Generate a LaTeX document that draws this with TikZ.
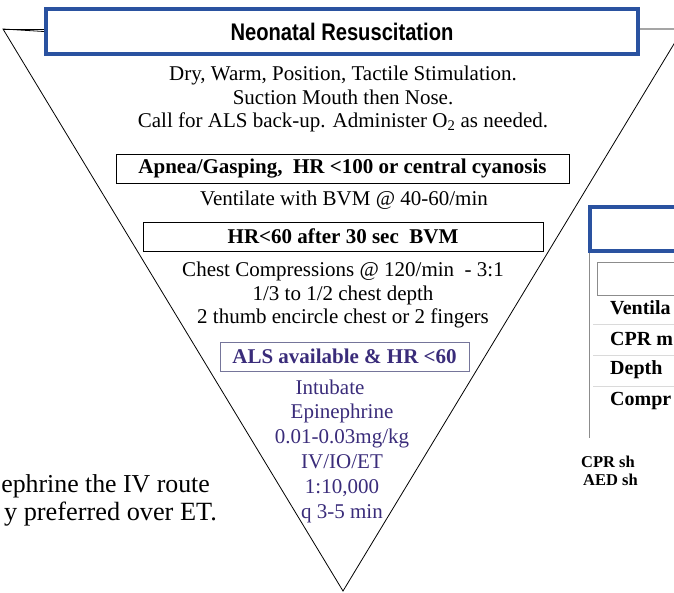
\documentclass[tikz,border=0pt]{standalone}
\usepackage{fontspec}
\setmainfont{Liberation Serif}
\newfontfamily\headfont[FakeStretch=0.84]{Liberation Sans}
\definecolor{frameblue}{HTML}{2A52A0}
\definecolor{alspurple}{HTML}{3A2C7A}
\definecolor{alsframe}{HTML}{75759A}
\definecolor{railgray}{HTML}{8C8C8C}
\definecolor{rowgray}{HTML}{DADADA}

\begin{document}
\begin{tikzpicture}[x=1pt,y=-1pt,
  txt/.style={align=center,inner sep=0pt,font=\fontsize{21}{23.5}\selectfont},
  stepbox/.style={draw,line width=1pt,inner sep=0pt,font=\fontsize{21}{24}\selectfont\bfseries},
  bluebox/.style={draw=frameblue,line width=4pt,inner sep=0pt},
  rowtxt/.style={anchor=west,inner sep=0pt,font=\fontsize{20}{22}\selectfont\bfseries},
  notetxt/.style={anchor=west,inner sep=0pt,font=\fontsize{16.5}{18}\selectfont\bfseries}]
  \clip (0,0) rectangle (674,592);

  % Nodes
  \node[bluebox,minimum width=592pt,minimum height=45pt,
        font=\headfont\bfseries\fontsize{24}{26}\selectfont] (title) at (342,31.5) {Neonatal Resuscitation};
  \coordinate (tl) at (3,29);
  \coordinate (tr) at (683,29);
  \coordinate (tip) at (343,591);

  \node[txt] (prep) at (343,99) {Dry, Warm, Position, Tactile Stimulation.\\
    Suction Mouth then Nose.\\
    Call for ALS back-up. Administer O\textsubscript{2} as needed.};
  \node[stepbox,minimum width=453pt,minimum height=29pt] (apnea) at (342.5,168.5) {Apnea/Gasping,\ \ HR <100 or central cyanosis};
  \node[txt] (vent) at (344,200) {Ventilate with BVM @ 40-60/min};
  \node[stepbox,minimum width=400pt,minimum height=29pt] (hr60) at (343,236.5) {HR<60 after 30 sec\ \ BVM};
  \node[txt] (comp) at (343,295) {Chest Compressions @ 120/min\ \ - 3:1\\
    1/3 to 1/2 chest depth\\
    2 thumb encircle chest or 2 fingers};
  \node[stepbox,draw=alsframe,text=alspurple,minimum width=249pt,minimum height=29pt] (als) at (344.5,356.5) {ALS available \& HR <60};
  \node[txt,text=alspurple,font=\fontsize{21}{24.8}\selectfont] (drug) at (342,451) {Intubate\hspace*{24pt}\\Epinephrine\\0.01-0.03mg/kg\\IV/IO/ET\\1:10,000\\q 3-5 min};

  % left note (cut off)
  \node[anchor=east,inner sep=0pt,font=\fontsize{25.8}{28}\selectfont] (routeA) at (210,486) {ephrine the IV route};
  \node[anchor=east,inner sep=0pt,font=\fontsize{26.3}{28}\selectfont] (routeB) at (217,514) {y preferred over ET.};

  % right panel (cut off)
  \coordinate (railend) at (589,438);
  \draw[railgray,line width=1pt] (railend |- 0,251) -- (railend);
  \node[bluebox,minimum width=120pt,minimum height=44pt,anchor=north west] (panel) at (588,205) {};
  \node[draw=railgray,line width=0.8pt,inner sep=0pt,minimum width=100pt,minimum height=33pt,anchor=north west] (hdrrow) at (597,262) {};
  \foreach \y in {324,355,386}
    \draw[rowgray,line width=0.8pt] (593,\y) -- (674,\y);
  \foreach \y/\lbl [count=\i] in {308/Ventila,339/CPR m,370/Depth,401/Compr}
    \node[rowtxt] (row\i) at (610,\y) {\lbl};
  \node[notetxt] (cprnote) at (581,462) {CPR sh};
  \node[notetxt] (aednote) at (583,480) {AED sh};

  % Lines
  \draw[line width=0.8pt] (title.west) -- (tl) -- (tip) -- (tr) -- (tr -| title.east);
  \draw[line width=0.8pt] (tl) -- (tl -| title.west);
\end{tikzpicture}
\end{document}
